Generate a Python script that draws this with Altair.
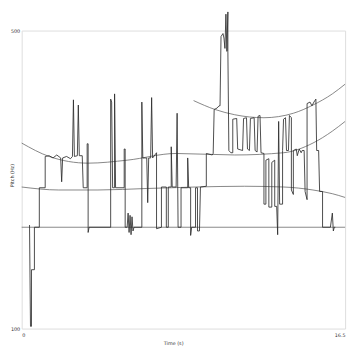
import altair as alt
import pandas as pd

# pitch trace (time in s, pitch in Hz)
trace_t = [0.40, 0.45, 0.50, 0.50, 0.65, 0.65, 0.90, 0.90, 1.20, 1.20, 1.40, 1.60, 1.79, 1.99, 2.04, 2.09,
           2.29, 2.49, 2.59, 2.64, 2.69, 2.84, 2.89, 2.94, 3.09, 3.14, 3.34, 3.34, 3.39, 3.39, 3.44,
           4.54, 4.54, 4.59, 4.64, 4.74, 4.74, 4.79, 5.23, 5.23, 5.28, 5.28, 5.38, 5.43, 5.48, 5.53,
           5.58, 5.63, 5.68, 5.73, 6.13, 6.13, 6.18, 6.38, 6.43, 6.48, 6.58, 6.63, 6.68, 6.88, 6.88,
           7.13, 7.13, 7.38, 7.38, 7.48, 7.48, 7.63, 7.63, 7.68, 7.88, 7.93, 7.98, 8.13, 8.13, 8.47,
           8.47, 8.52, 8.62, 8.62, 8.67, 8.87, 8.87, 8.97, 8.97, 9.07, 9.12, 9.42, 9.42, 9.72, 9.77,
           9.82, 9.97, 10.07, 10.12, 10.17, 10.27, 10.32, 10.37, 10.42, 10.47, 10.52, 10.52, 10.57,
           10.67, 10.77, 10.77, 10.97, 11.02, 11.27, 11.32, 11.47, 11.52, 11.62, 11.67, 11.86, 11.91,
           12.01, 12.06, 12.16, 12.21, 12.36, 12.36, 12.46, 12.46, 12.61, 12.61, 12.76, 12.76, 12.91,
           12.91, 13.01, 13.06, 13.11, 13.16, 13.31, 13.31, 13.36, 13.46, 13.51, 13.61, 13.66, 13.76,
           13.76, 13.86, 13.86, 14.01, 14.06, 14.16, 14.26, 14.31, 14.41, 14.46, 14.56, 14.56, 14.71,
           14.81, 14.91, 15.01, 15.05, 15.15, 15.20, 15.35, 15.35, 15.75, 15.85, 15.90, 15.95, 16.00]
trace_p = [239, 103, 103, 179, 179, 236, 236, 289, 289, 331, 332, 329, 333, 329, 297, 329,
           331, 328, 331, 407, 331, 332, 400, 332, 332, 289, 289, 348, 348, 229, 236,
           236, 408, 404, 289, 289, 415, 289, 289, 341, 341, 236, 236, 255, 229, 252,
           226, 250, 231, 236, 236, 404, 329, 329, 269, 329, 329, 410, 329, 336, 234,
           236, 290, 290, 236, 236, 290, 290, 344, 290, 290, 389, 236, 236, 289, 289,
           329, 289, 289, 225, 236, 236, 289, 289, 231, 231, 290, 291, 335, 333, 335,
           394, 396, 399, 399, 492, 496, 490, 476, 522, 472, 525, 472, 339,
           336, 336, 381, 382, 341, 339, 382, 383, 341, 339, 382, 383, 339,
           337, 385, 386, 336, 335, 267, 267, 326, 328, 263, 263, 323, 326,
           264, 264, 226, 378, 267, 267, 339, 381, 383, 339, 339, 386, 383,
           286, 280, 339, 341, 332, 341, 336, 339, 339, 284, 273, 402, 404,
           399, 404, 408, 339, 339, 284, 284, 236, 236, 255, 231, 236, 236]

# smooth reference curves
curve_a_t = [0, 1.40, 3.39, 5.38, 7.88, 10.87, 13.36, 14.86, 15.85, 16.5]
curve_a_p = [349, 331, 322, 326, 335, 333, 336, 349, 365, 378]
curve_u_t = [8.77, 9.87, 10.87, 12.36, 13.86, 14.86, 15.85, 16.5]
curve_u_p = [406, 394, 387, 383, 389, 400, 415, 428]
curve_b_t = [0, 1.89, 3.89, 6.38, 8.87, 11.37, 13.36, 14.86, 15.85, 16.5]
curve_b_p = [290, 286, 286, 288, 290, 291, 290, 286, 281, 276]
ref_level = [236]

x_ticks = [0, 16.5]
y_ticks = [100, 500]

trace_df = pd.DataFrame({"t": trace_t, "p": trace_p, "i": list(range(len(trace_t)))})
curves_df = pd.concat([
    pd.DataFrame({"t": curve_a_t, "p": curve_a_p, "c": "a"}),
    pd.DataFrame({"t": curve_u_t, "p": curve_u_p, "c": "u"}),
    pd.DataFrame({"t": curve_b_t, "p": curve_b_p, "c": "b"}),
])
ref_df = pd.DataFrame({"p": ref_level})

xs = alt.Scale(domain=[0, 16.5], nice=False, zero=False)
ys = alt.Scale(domain=[100, 500], nice=False, zero=False)

x_axis = alt.Axis(values=x_ticks, labelExpr="toString(datum.value)", title="Time (s)",
                  ticks=False, domain=False, grid=False,
                  labelFontSize=5, titleFontSize=5, labelPadding=4, titlePadding=3,
                  labelColor="#333", titleColor="#333", labelFlush=True, titleFontWeight="normal",
                  titleX=155)
y_axis = alt.Axis(values=y_ticks, labelExpr="toString(datum.value)", title="Pitch (Hz)",
                  ticks=False, domain=False, grid=False,
                  labelFontSize=5, titleFontSize=5, labelPadding=2,
                  labelColor="#333", titleColor="#333", titleFontWeight="normal",
                  titleX=-7, titleY=148)

trace = alt.Chart(trace_df).mark_line(color="#2a2a2a", strokeWidth=0.85, clip=False).encode(
    x=alt.X("t:Q", scale=xs, axis=x_axis),
    y=alt.Y("p:Q", scale=ys, axis=y_axis),
    order="i:Q",
)
curves = alt.Chart(curves_df).mark_line(color="#666", strokeWidth=0.8, interpolate="monotone").encode(
    x=alt.X("t:Q", scale=xs, axis=x_axis),
    y=alt.Y("p:Q", scale=ys, axis=y_axis),
    detail="c:N",
)
ref = alt.Chart(ref_df).mark_rule(color="#666", strokeWidth=0.8).encode(
    y=alt.Y("p:Q", scale=ys, axis=y_axis),
)

chart = alt.layer(ref, curves, trace).properties(
    width=331, height=305,
    autosize=alt.AutoSizeParams(type="none"),
    padding={"left": 14, "top": 19, "right": 4, "bottom": 24},
).configure_view(stroke="#666", strokeWidth=1).configure(font="DejaVu Sans")

chart.save("out.html", embed_options={"renderer": "svg", "actions": False})
